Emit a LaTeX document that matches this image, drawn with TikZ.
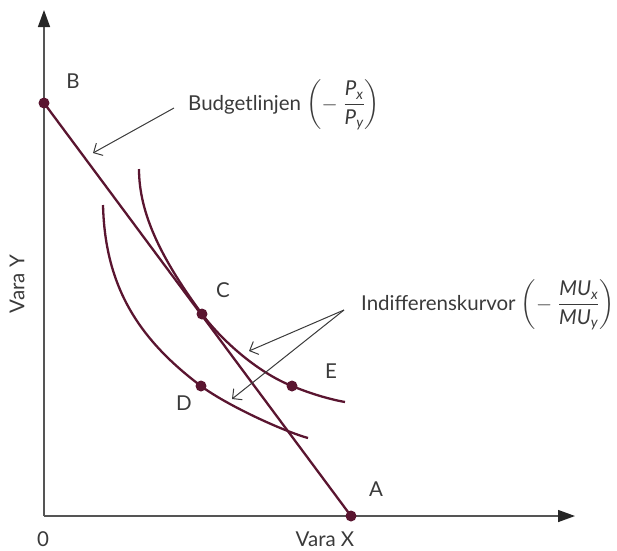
\documentclass[tikz,border=0pt]{standalone}
\usepackage{amsmath}
\usepackage{fontspec}
\setmainfont{Lato}
\usetikzlibrary{arrows.meta, positioning}
\definecolor{icwine}{HTML}{5A1530}
\definecolor{icaxis}{HTML}{555555}
\definecolor{ictext}{HTML}{3A3A3A}

\begin{document}
\begin{tikzpicture}[
  x=1pt, y=-1pt,
  axis/.style={draw=icaxis, line width=1.4pt,
               -{Triangle[length=17pt, width=12pt, color=black!85]}},
  curve/.style={draw=icwine, line width=2.3pt},
  pt/.style={circle, fill=icwine, inner sep=0pt, minimum size=11pt},
  lbl/.style={text=ictext, font=\fontsize{20.5}{24}\selectfont, inner sep=0pt},
  pointer/.style={draw=ictext, line width=1pt,
                  -{Straight Barb[length=7pt, width=14pt]}}
]
  \useasboundingbox (0,0) rectangle (617,550);

  % axes
  \coordinate (O) at (44,516);
  \coordinate (ytop) at (44,10);
  \coordinate (xend) at (575,516);
  \draw[axis] (O) -- (ytop);
  \draw[axis] (O) -- (xend);

  % indifference curves
  \draw[curve] (139,169) .. controls (139,215) and (163,261) .. (202,314)
    .. controls (223,342) and (259,373) .. (292,386)
    .. controls (309,393) and (328,399) .. (345,402);
  \draw[curve] (103,205) .. controls (105,285) and (137,338) .. (201,386)
    .. controls (225,404) and (280,430) .. (308,438);

  % budget line and points
  \node[pt] (B) at (44,103) {};
  \node[pt] (A) at (351,516) {};
  \draw[curve] (B.center) -- (A.center);
  \node[pt] (C) at (202,314) {};
  \node[pt] (D) at (201,386) {};
  \node[pt] (E) at (292,386) {};

  % point labels
  \node[lbl] (Blbl) at (73,81) {B};
  \node[lbl] (Albl) at (376,489) {A};
  \node[lbl] (Clbl) at (223,290) {C};
  \node[lbl] (Dlbl) at (184,403) {D};
  \node[lbl] (Elbl) at (331,371) {E};
  \node[lbl] (zero) at (43,539) {0};
  \node[lbl] (xlbl) at (325,539) {Vara X};
  \node[lbl, rotate=90] (ylbl) at (17,284) {Vara Y};

  % annotations
  \node[lbl, anchor=base west] (budget) at (188,110)
    {Budgetlinjen $\left(-\;\dfrac{\textit{P}_{\textit{x}}}{\textit{P}_{\textit{y}}}\right)$};
  \node[lbl, anchor=base west] (indiff) at (361,310)
    {Indifferenskurvor $\left(-\;\dfrac{\textit{MU}_{\textit{x}}}{\textit{MU}_{\textit{y}}}\right)$};

  \coordinate (budfrom) at (174,108);
  \coordinate (budto) at (93,153);
  \coordinate (indfrom) at (344,310);
  \coordinate (indtoC) at (249,351);
  \coordinate (indtoD) at (232,399);
  \draw[pointer] (budfrom) -- (budto);
  \draw[pointer] (indfrom) -- (indtoC);
  \draw[pointer] (indfrom) -- (indtoD);
\end{tikzpicture}
\end{document}
